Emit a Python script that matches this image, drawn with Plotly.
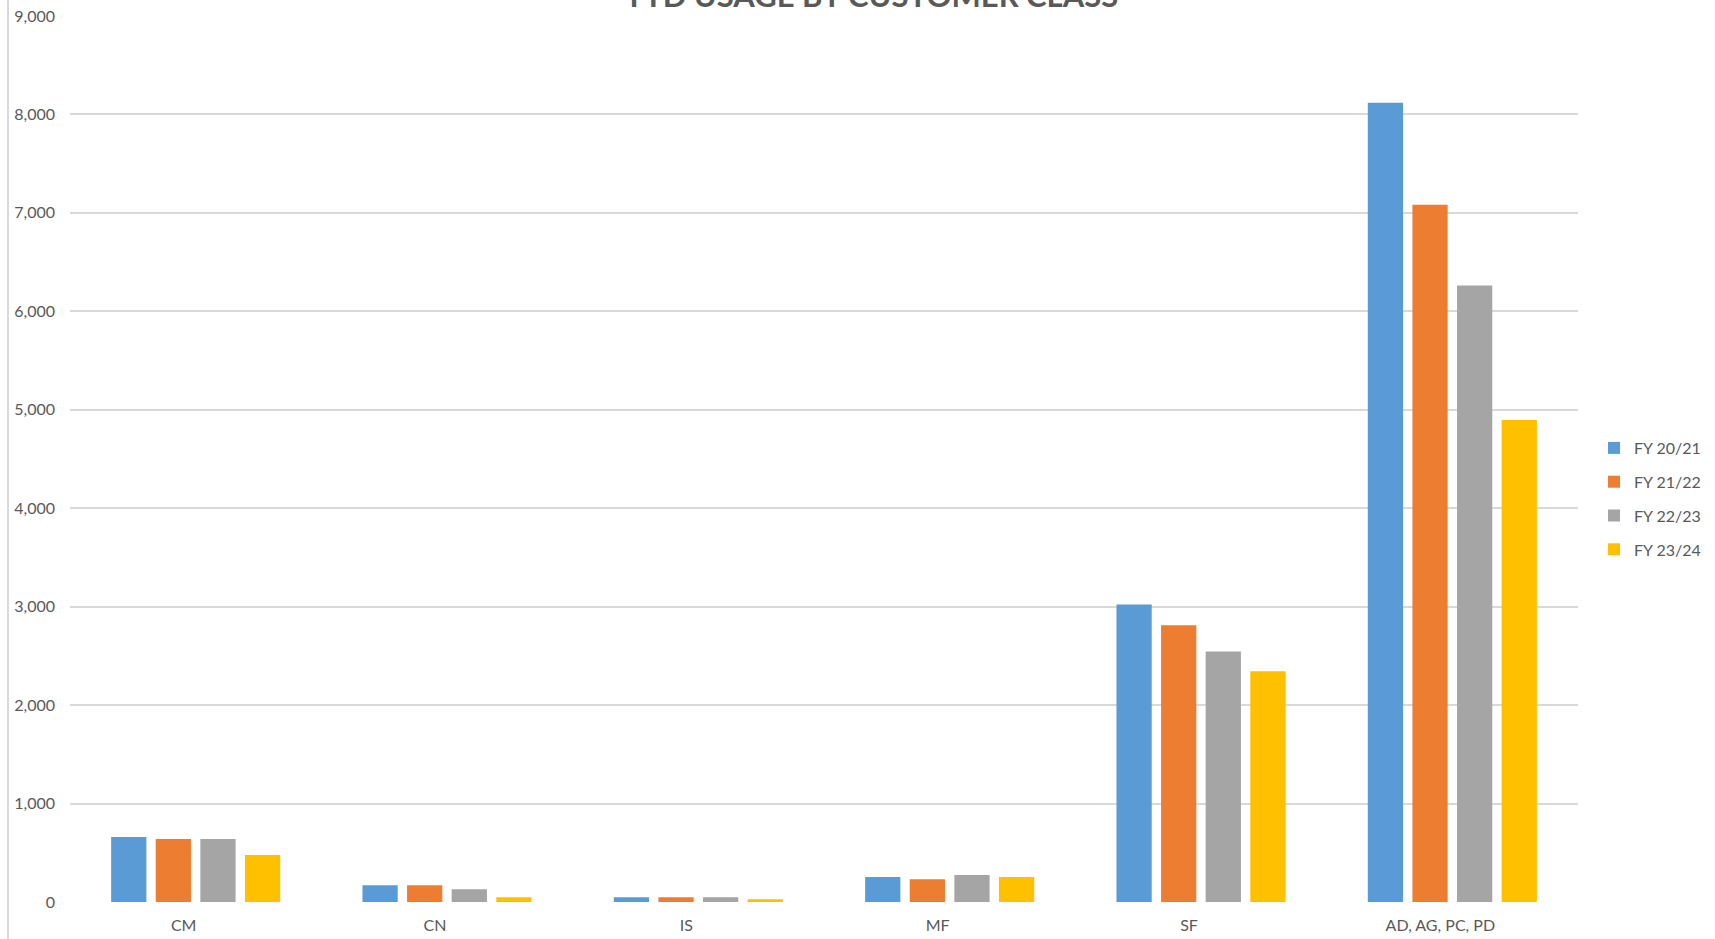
import plotly.graph_objects as go

categories = ["CM", "CN", "IS", "MF", "SF", "AD, AG, PC, PD"]
series_names = ["FY 20/21", "FY 21/22", "FY 22/23", "FY 23/24"]
fy2021 = [660, 171, 48, 253, 3022, 8120]
fy2122 = [640, 171, 48, 232, 2811, 7083]
fy2223 = [640, 130, 48, 273, 2544, 6263]
fy2324 = [478, 48, 27, 253, 2344, 4895]
values = [fy2021, fy2122, fy2223, fy2324]
colors = ["#5B9BD5", "#ED7D31", "#A5A5A5", "#FFC000"]

W, H = 1715, 939
L, R, T, B = 70, W - 1578, 16, H - 902
TXT = "#595959"
FONT = "Lato"

fig = go.Figure()
for name, vals, col in zip(series_names, values, colors):
    fig.add_trace(go.Bar(x=categories, y=vals, name=name, marker_color=col,
                         marker_line_width=0, legendgroup=name))

fig.update_layout(
    width=W, height=H,
    margin=dict(l=L, r=R, t=T, b=B, pad=0, autoexpand=False),
    paper_bgcolor="white", plot_bgcolor="white",
    barmode="group", bargap=0.29, bargroupgap=0.21,
    font=dict(family=FONT, size=16, color=TXT),
    legend=dict(x=(1594 - L) / (W - L - R), xanchor="left",
                y=(902 - 499) / (902 - 16), yanchor="middle",
                font=dict(family=FONT, size=16, color=TXT),
                tracegroupgap=10, traceorder="grouped"),
    showlegend=True,
)
fig.update_xaxes(showgrid=False, showline=False, ticks="", zeroline=False, automargin=False,
                 tickfont=dict(family=FONT, size=16, color=TXT),
                 ticklabelstandoff=12, ticklabelshift=-12)
fig.update_yaxes(range=[0, 9000], dtick=1000, tickformat=",", showgrid=True, automargin=False,
                 gridcolor="#D9D9D9", gridwidth=1.5, zeroline=False, showline=False,
                 ticks="", tickfont=dict(family=FONT, size=16, color=TXT),
                 ticklabelstandoff=14)

fig.add_annotation(text="<b>YTD USAGE BY CUSTOMER CLASS</b>", xref="paper", yref="paper",
                   x=(870 - L) / (W - L - R), y=1, xanchor="center", yanchor="bottom",
                   showarrow=False, font=dict(family=FONT, size=31, color=TXT), yshift=0)

fig.add_shape(type="line", xref="paper", yref="paper",
              x0=(8 - L) / (W - L - R), x1=(8 - L) / (W - L - R),
              y0=-B / (H - T - B), y1=1 + T / (H - T - B),
              line=dict(color="#D9D9D9", width=2))

fig.write_html("out.html")
